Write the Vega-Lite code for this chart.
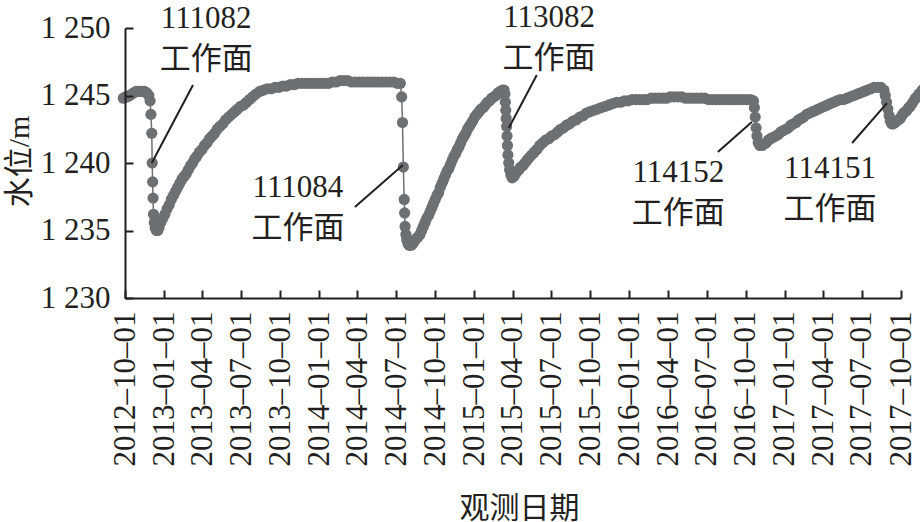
{
  "$schema": "https://vega.github.io/schema/vega-lite/v6.json",
  "width": 776,
  "height": 270,
  "autosize": {"type": "none"},
  "padding": {"left": 125, "top": 28, "right": 19, "bottom": 224},
  "background": "white",
  "config": {"view": {"stroke": null}},
  "datasets": {
    "wl": [
      {"d":"2012-09-27","v":1244.8},{"d":"2012-10-02","v":1244.9},{"d":"2012-10-07","v":1244.9},{"d":"2012-10-12","v":1245.0},
      {"d":"2012-10-17","v":1245.1},{"d":"2012-10-22","v":1245.2},{"d":"2012-10-27","v":1245.3},{"d":"2012-11-01","v":1245.3},
      {"d":"2012-11-06","v":1245.3},{"d":"2012-11-11","v":1245.3},{"d":"2012-11-16","v":1245.3},{"d":"2012-11-21","v":1245.2},
      {"d":"2012-11-26","v":1245.0},{"d":"2012-11-29","v":1244.6},
      {"d":"2012-12-01","v":1243.6},{"d":"2012-12-03","v":1242.2},{"d":"2012-12-04","v":1240.0},{"d":"2012-12-05","v":1238.6},
      {"d":"2012-12-06","v":1237.4},{"d":"2012-12-07","v":1236.2},{"d":"2012-12-09","v":1235.6},{"d":"2012-12-11","v":1235.2},
      {"d":"2012-12-14","v":1235.0},{"d":"2012-12-17","v":1235.0},{"d":"2012-12-20","v":1235.2},
      {"d":"2012-12-24","v":1235.6},{"d":"2012-12-29","v":1235.9},{"d":"2013-01-03","v":1236.2},{"d":"2013-01-08","v":1236.6},
      {"d":"2013-01-13","v":1236.9},{"d":"2013-01-18","v":1237.3},{"d":"2013-01-23","v":1237.6},{"d":"2013-01-28","v":1237.9},
      {"d":"2013-02-02","v":1238.2},{"d":"2013-02-07","v":1238.5},{"d":"2013-02-12","v":1238.8},{"d":"2013-02-17","v":1239.0},
      {"d":"2013-02-22","v":1239.2},{"d":"2013-02-27","v":1239.5},{"d":"2013-03-04","v":1239.8},{"d":"2013-03-09","v":1240.0},
      {"d":"2013-03-14","v":1240.3},{"d":"2013-03-19","v":1240.5},{"d":"2013-03-25","v":1240.8},{"d":"2013-03-31","v":1241.0},
      {"d":"2013-04-06","v":1241.3},{"d":"2013-04-12","v":1241.5},{"d":"2013-04-18","v":1241.8},{"d":"2013-04-24","v":1242.0},
      {"d":"2013-04-30","v":1242.2},{"d":"2013-05-06","v":1242.5},{"d":"2013-05-12","v":1242.7},{"d":"2013-05-19","v":1242.9},
      {"d":"2013-05-26","v":1243.2},{"d":"2013-06-02","v":1243.4},{"d":"2013-06-09","v":1243.6},{"d":"2013-06-16","v":1243.8},
      {"d":"2013-06-23","v":1244.0},{"d":"2013-06-30","v":1244.2},{"d":"2013-07-07","v":1244.3},{"d":"2013-07-14","v":1244.5},
      {"d":"2013-07-21","v":1244.7},{"d":"2013-07-28","v":1244.9},{"d":"2013-08-05","v":1245.1},{"d":"2013-08-14","v":1245.3},
      {"d":"2013-08-23","v":1245.4},{"d":"2013-09-01","v":1245.5},{"d":"2013-09-10","v":1245.5},{"d":"2013-09-19","v":1245.6},
      {"d":"2013-09-28","v":1245.6},{"d":"2013-10-07","v":1245.7},{"d":"2013-10-16","v":1245.7},{"d":"2013-10-25","v":1245.8},
      {"d":"2013-11-03","v":1245.8},{"d":"2013-11-12","v":1245.9},{"d":"2013-11-21","v":1245.9},{"d":"2013-11-30","v":1245.9},
      {"d":"2013-12-09","v":1245.9},{"d":"2013-12-18","v":1245.9},{"d":"2013-12-27","v":1245.9},{"d":"2014-01-05","v":1245.9},
      {"d":"2014-01-14","v":1245.9},{"d":"2014-01-23","v":1245.9},{"d":"2014-02-01","v":1246.0},{"d":"2014-02-10","v":1246.0},
      {"d":"2014-02-19","v":1246.1},{"d":"2014-02-28","v":1246.1},{"d":"2014-03-09","v":1246.1},{"d":"2014-03-18","v":1246.0},
      {"d":"2014-03-27","v":1246.0},{"d":"2014-04-05","v":1246.0},{"d":"2014-04-14","v":1246.0},{"d":"2014-04-23","v":1246.0},
      {"d":"2014-05-02","v":1246.0},{"d":"2014-05-11","v":1246.0},{"d":"2014-05-20","v":1246.0},{"d":"2014-05-29","v":1246.0},
      {"d":"2014-06-07","v":1246.0},{"d":"2014-06-16","v":1246.0},{"d":"2014-06-25","v":1246.0},{"d":"2014-07-04","v":1245.9},
      {"d":"2014-07-11","v":1245.9},
      {"d":"2014-07-14","v":1244.9},{"d":"2014-07-16","v":1243.0},{"d":"2014-07-18","v":1239.7},{"d":"2014-07-20","v":1237.3},
      {"d":"2014-07-21","v":1236.3},{"d":"2014-07-22","v":1235.3},{"d":"2014-07-24","v":1234.7},{"d":"2014-07-26","v":1234.3},
      {"d":"2014-07-29","v":1234.0},{"d":"2014-08-01","v":1233.9},{"d":"2014-08-05","v":1233.9},{"d":"2014-08-09","v":1234.0},
      {"d":"2014-08-13","v":1234.2},{"d":"2014-08-17","v":1234.4},{"d":"2014-08-21","v":1234.5},{"d":"2014-08-26","v":1234.7},
      {"d":"2014-08-30","v":1235.0},{"d":"2014-09-03","v":1235.3},{"d":"2014-09-07","v":1235.6},{"d":"2014-09-11","v":1235.9},
      {"d":"2014-09-15","v":1236.1},{"d":"2014-09-19","v":1236.4},{"d":"2014-09-23","v":1236.7},{"d":"2014-09-27","v":1237.0},
      {"d":"2014-10-01","v":1237.3},{"d":"2014-10-05","v":1237.6},{"d":"2014-10-09","v":1237.8},{"d":"2014-10-13","v":1238.2},
      {"d":"2014-10-17","v":1238.5},{"d":"2014-10-21","v":1238.8},{"d":"2014-10-25","v":1239.1},{"d":"2014-10-29","v":1239.4},
      {"d":"2014-11-02","v":1239.6},{"d":"2014-11-06","v":1239.9},{"d":"2014-11-10","v":1240.2},{"d":"2014-11-14","v":1240.5},
      {"d":"2014-11-18","v":1240.7},{"d":"2014-11-22","v":1241.0},{"d":"2014-11-26","v":1241.2},{"d":"2014-11-30","v":1241.5},
      {"d":"2014-12-04","v":1241.8},{"d":"2014-12-08","v":1242.0},{"d":"2014-12-12","v":1242.2},{"d":"2014-12-16","v":1242.5},
      {"d":"2014-12-20","v":1242.7},{"d":"2014-12-24","v":1242.9},{"d":"2014-12-28","v":1243.1},{"d":"2015-01-02","v":1243.4},
      {"d":"2015-01-07","v":1243.6},{"d":"2015-01-12","v":1243.8},{"d":"2015-01-17","v":1244.0},{"d":"2015-01-22","v":1244.1},
      {"d":"2015-01-27","v":1244.3},{"d":"2015-02-01","v":1244.5},{"d":"2015-02-06","v":1244.6},{"d":"2015-02-11","v":1244.8},
      {"d":"2015-02-16","v":1244.9},{"d":"2015-02-21","v":1245.0},{"d":"2015-02-26","v":1245.2},{"d":"2015-03-03","v":1245.3},
      {"d":"2015-03-08","v":1245.4},{"d":"2015-03-12","v":1245.4},
      {"d":"2015-03-14","v":1245.1},{"d":"2015-03-15","v":1244.5},{"d":"2015-03-16","v":1243.9},{"d":"2015-03-17","v":1243.3},
      {"d":"2015-03-18","v":1242.7},{"d":"2015-03-19","v":1242.0},{"d":"2015-03-20","v":1241.3},{"d":"2015-03-21","v":1240.6},
      {"d":"2015-03-23","v":1240.0},{"d":"2015-03-25","v":1239.5},{"d":"2015-03-28","v":1239.1},{"d":"2015-03-31","v":1238.9},
      {"d":"2015-04-04","v":1239.0},{"d":"2015-04-08","v":1239.2},{"d":"2015-04-12","v":1239.4},{"d":"2015-04-16","v":1239.5},
      {"d":"2015-04-20","v":1239.7},{"d":"2015-04-25","v":1239.8},{"d":"2015-04-30","v":1240.0},{"d":"2015-05-05","v":1240.2},
      {"d":"2015-05-10","v":1240.4},{"d":"2015-05-16","v":1240.6},{"d":"2015-05-22","v":1240.8},{"d":"2015-05-28","v":1241.0},
      {"d":"2015-06-04","v":1241.3},{"d":"2015-06-11","v":1241.5},{"d":"2015-06-18","v":1241.7},{"d":"2015-06-25","v":1241.8},
      {"d":"2015-07-02","v":1242.0},{"d":"2015-07-09","v":1242.1},{"d":"2015-07-16","v":1242.3},{"d":"2015-07-23","v":1242.5},
      {"d":"2015-07-30","v":1242.6},{"d":"2015-08-06","v":1242.8},{"d":"2015-08-13","v":1242.9},{"d":"2015-08-21","v":1243.1},
      {"d":"2015-08-29","v":1243.2},{"d":"2015-09-06","v":1243.4},{"d":"2015-09-14","v":1243.5},{"d":"2015-09-22","v":1243.7},
      {"d":"2015-09-30","v":1243.8},{"d":"2015-10-09","v":1243.9},{"d":"2015-10-18","v":1244.0},{"d":"2015-10-27","v":1244.1},
      {"d":"2015-11-05","v":1244.2},{"d":"2015-11-14","v":1244.3},{"d":"2015-11-23","v":1244.4},{"d":"2015-12-02","v":1244.5},
      {"d":"2015-12-11","v":1244.5},{"d":"2015-12-20","v":1244.6},{"d":"2015-12-29","v":1244.6},{"d":"2016-01-07","v":1244.7},
      {"d":"2016-01-16","v":1244.7},{"d":"2016-01-25","v":1244.7},{"d":"2016-02-03","v":1244.7},{"d":"2016-02-12","v":1244.7},
      {"d":"2016-02-21","v":1244.8},{"d":"2016-03-01","v":1244.8},{"d":"2016-03-10","v":1244.8},{"d":"2016-03-19","v":1244.8},
      {"d":"2016-03-28","v":1244.8},{"d":"2016-04-06","v":1244.9},{"d":"2016-04-15","v":1244.9},{"d":"2016-04-24","v":1244.9},
      {"d":"2016-05-03","v":1244.9},{"d":"2016-05-12","v":1244.8},{"d":"2016-05-21","v":1244.8},{"d":"2016-05-30","v":1244.8},
      {"d":"2016-06-08","v":1244.8},{"d":"2016-06-17","v":1244.8},{"d":"2016-06-26","v":1244.8},{"d":"2016-07-05","v":1244.7},
      {"d":"2016-07-14","v":1244.7},{"d":"2016-07-23","v":1244.7},{"d":"2016-08-01","v":1244.7},{"d":"2016-08-10","v":1244.7},
      {"d":"2016-08-19","v":1244.7},{"d":"2016-08-28","v":1244.7},{"d":"2016-09-06","v":1244.7},{"d":"2016-09-15","v":1244.7},
      {"d":"2016-09-24","v":1244.7},{"d":"2016-10-03","v":1244.7},{"d":"2016-10-12","v":1244.7},{"d":"2016-10-19","v":1244.6},
      {"d":"2016-10-21","v":1244.1},{"d":"2016-10-23","v":1243.4},{"d":"2016-10-25","v":1242.6},{"d":"2016-10-27","v":1242.0},
      {"d":"2016-10-30","v":1241.5},{"d":"2016-11-03","v":1241.3},{"d":"2016-11-08","v":1241.3},
      {"d":"2016-11-13","v":1241.4},{"d":"2016-11-18","v":1241.5},{"d":"2016-11-23","v":1241.7},{"d":"2016-11-28","v":1241.8},
      {"d":"2016-12-04","v":1241.9},{"d":"2016-12-10","v":1242.0},{"d":"2016-12-16","v":1242.1},{"d":"2016-12-22","v":1242.3},
      {"d":"2016-12-28","v":1242.4},{"d":"2017-01-03","v":1242.5},{"d":"2017-01-09","v":1242.6},{"d":"2017-01-15","v":1242.8},
      {"d":"2017-01-21","v":1242.9},{"d":"2017-01-27","v":1243.0},{"d":"2017-02-02","v":1243.2},{"d":"2017-02-08","v":1243.3},
      {"d":"2017-02-14","v":1243.4},{"d":"2017-02-21","v":1243.6},{"d":"2017-02-28","v":1243.7},{"d":"2017-03-07","v":1243.8},
      {"d":"2017-03-14","v":1243.9},{"d":"2017-03-21","v":1244.0},{"d":"2017-03-28","v":1244.1},{"d":"2017-04-04","v":1244.2},
      {"d":"2017-04-11","v":1244.3},{"d":"2017-04-18","v":1244.4},{"d":"2017-04-25","v":1244.5},{"d":"2017-05-03","v":1244.6},
      {"d":"2017-05-11","v":1244.7},{"d":"2017-05-19","v":1244.7},{"d":"2017-05-27","v":1244.8},{"d":"2017-06-04","v":1244.9},
      {"d":"2017-06-12","v":1245.0},{"d":"2017-06-20","v":1245.1},{"d":"2017-06-28","v":1245.2},{"d":"2017-07-06","v":1245.3},
      {"d":"2017-07-14","v":1245.4},{"d":"2017-07-22","v":1245.5},{"d":"2017-07-30","v":1245.6},{"d":"2017-08-07","v":1245.6},
      {"d":"2017-08-15","v":1245.6},{"d":"2017-08-22","v":1245.4},
      {"d":"2017-08-25","v":1245.0},{"d":"2017-08-28","v":1244.5},{"d":"2017-08-31","v":1244.0},{"d":"2017-09-03","v":1243.5},
      {"d":"2017-09-06","v":1243.1},{"d":"2017-09-09","v":1242.9},{"d":"2017-09-13","v":1242.9},
      {"d":"2017-09-17","v":1243.0},{"d":"2017-09-21","v":1243.1},{"d":"2017-09-25","v":1243.2},{"d":"2017-09-29","v":1243.3},
      {"d":"2017-10-03","v":1243.5},{"d":"2017-10-07","v":1243.7},{"d":"2017-10-11","v":1243.8},{"d":"2017-10-15","v":1243.9},
      {"d":"2017-10-19","v":1244.1},{"d":"2017-10-23","v":1244.2},{"d":"2017-10-27","v":1244.4},{"d":"2017-10-31","v":1244.6},
      {"d":"2017-11-04","v":1244.8},{"d":"2017-11-08","v":1244.9},{"d":"2017-11-12","v":1245.1},{"d":"2017-11-16","v":1245.2},
      {"d":"2017-11-20","v":1245.4},{"d":"2017-11-26","v":1245.6}
    ],
    "ann": [
      {"d":"2013-04-10","v":1250.0,"t":"111082\n工作面"},
      {"d":"2013-11-12","v":1237.48,"t":"111084\n工作面"},
      {"d":"2015-06-26","v":1250.07,"t":"113082\n工作面"},
      {"d":"2016-04-25","v":1238.59,"t":"114152\n工作面"},
      {"d":"2017-04-17","v":1238.89,"t":"114151\n工作面"}
    ],
    "ptr": [
      {"d":"2012-12-03","v":1240.0,"d2":"2013-03-10","v2":1245.78},
      {"d":"2014-03-26","v":1236.74,"d2":"2014-07-17","v2":1239.85},
      {"d":"2015-05-28","v":1246.52,"d2":"2015-03-23","v2":1242.59},
      {"d":"2016-07-27","v":1240.81,"d2":"2016-10-15","v2":1243.04},
      {"d":"2017-06-08","v":1241.48,"d2":"2017-08-29","v2":1244.44}
    ]
  },
  "encoding": {
    "x": {
      "field": "d", "type": "temporal",
      "scale": {"type": "utc", "domain": [{"year":2012,"month":10,"date":1,"utc":true},{"year":2017,"month":10,"date":1,"utc":true}]},
      "axis": {
        "title": "观测日期", "titleFont": "Liberation Serif, Noto Sans CJK SC", "titleFontSize": 30, "titleFontWeight": "normal",
        "titleColor": "#231f20", "titleX": 394, "titleY": 210, "titleBaseline": "middle", "titleAlign": "center",
        "values": [
          {"year":2012,"month":10,"date":1,"utc":true},
          {"year":2013,"month":1,"date":1,"utc":true},{"year":2013,"month":4,"date":1,"utc":true},{"year":2013,"month":7,"date":1,"utc":true},{"year":2013,"month":10,"date":1,"utc":true},
          {"year":2014,"month":1,"date":1,"utc":true},{"year":2014,"month":4,"date":1,"utc":true},{"year":2014,"month":7,"date":1,"utc":true},{"year":2014,"month":10,"date":1,"utc":true},
          {"year":2015,"month":1,"date":1,"utc":true},{"year":2015,"month":4,"date":1,"utc":true},{"year":2015,"month":7,"date":1,"utc":true},{"year":2015,"month":10,"date":1,"utc":true},
          {"year":2016,"month":1,"date":1,"utc":true},{"year":2016,"month":4,"date":1,"utc":true},{"year":2016,"month":7,"date":1,"utc":true},{"year":2016,"month":10,"date":1,"utc":true},
          {"year":2017,"month":1,"date":1,"utc":true},{"year":2017,"month":4,"date":1,"utc":true},{"year":2017,"month":7,"date":1,"utc":true},{"year":2017,"month":10,"date":1,"utc":true}
        ],
        "format": "%Y–%m–%d",
        "labelAngle": 270, "labelAlign": "right", "labelBaseline": "middle", "labelFlush": false, "labelOverlap": false,
        "labelFont": "Liberation Serif, Times New Roman, serif", "labelFontSize": 31, "labelColor": "#231f20", "labelPadding": 21,
        "tickSize": -8, "tickWidth": 2, "tickColor": "#231f20", "domainColor": "#231f20", "domainWidth": 2,
        "grid": false, "zindex": 1
      }
    },
    "y": {
      "field": "v", "type": "quantitative",
      "scale": {"domain": [1230, 1250], "zero": false, "nice": false},
      "axis": {
        "title": "水位/m", "titleFont": "Liberation Serif, Noto Sans CJK SC", "titleFontSize": 30, "titleFontWeight": "normal",
        "titleColor": "#231f20", "titleX": -106, "titleY": 133, "titleBaseline": "middle", "titleAlign": "center", "titleAngle": 270,
        "values": [1230, 1235, 1240, 1245, 1250],
        "labelExpr": "'1 ' + substring(toString(datum.value), 1)",
        "labelFont": "Liberation Serif, Times New Roman, serif", "labelFontSize": 31, "labelColor": "#231f20", "labelPadding": 23,
        "labelBaseline": "middle", "labelFlush": false, "labelOverlap": false,
        "tickSize": -8, "tickWidth": 2, "tickColor": "#231f20", "domainColor": "#231f20", "domainWidth": 2,
        "grid": false, "zindex": 1
      }
    }
  },
  "layer": [
    {
      "data": {"name": "wl"},
      "mark": {"type": "line", "color": "#6c7073", "strokeWidth": 1.5},
      "encoding": {}
    },
    {
      "data": {"name": "wl"},
      "mark": {"type": "point", "shape": "circle", "filled": true, "size": 125, "color": "#6c7073", "opacity": 1, "strokeWidth": 0},
      "encoding": {}
    },
    {
      "data": {"name": "ptr", "format": {"parse": {"d": "date", "d2": "date"}}},
      "mark": {"type": "rule", "color": "#231f20", "strokeWidth": 2},
      "encoding": {"x2": {"field": "d2"}, "y2": {"field": "v2"}}
    },
    {
      "data": {"name": "ann"},
      "mark": {"type": "text", "font": "Liberation Serif, Noto Sans CJK SC", "fontSize": 31, "color": "#231f20",
               "align": "center", "baseline": "alphabetic", "lineBreak": "\n", "lineHeight": 41},
      "encoding": {"text": {"field": "t", "type": "nominal"}}
    }
  ]
}
